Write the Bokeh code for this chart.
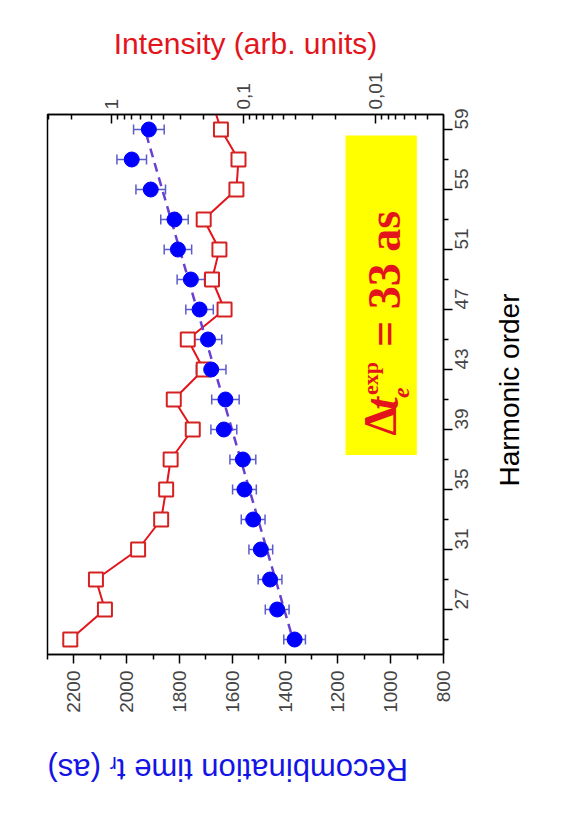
import math
from bokeh.plotting import figure
from bokeh.models import (Range1d, LogScale, LogAxis, FixedTicker, Whisker, TeeHead,
                          ColumnDataSource, BoxAnnotation, CustomJSTickFormatter, Label)
from bokeh.embed import file_html
from bokeh.resources import INLINE

# ---- data ----
harmonics = [25, 27, 29, 31, 33, 35, 37, 39, 41, 43, 45, 47, 49, 51, 53, 55, 57, 59]
recomb_time = [1364, 1430, 1457, 1492, 1521, 1554, 1560, 1632, 1626, 1680, 1692, 1724,
               1757, 1806, 1819, 1909, 1981, 1916]
time_err = [41, 45, 45, 45, 45, 45, 49, 49, 52, 56, 52, 52, 52, 52, 52, 56, 56, 58]

int_harmonics = [25, 27, 29, 31, 33, 35, 37, 39, 41, 43, 45, 47, 49, 51, 53, 55, 57, 59, 61]
intensity = [2.05, 1.12, 1.31, 0.628, 0.42, 0.385, 0.356, 0.242, 0.337, 0.20, 0.264,
             0.139, 0.173, 0.152, 0.20, 0.113, 0.109, 0.148, 0.175]

fit_harmonics = [24.5, 58.5]
fit_time = [1362, 1923]

time_ticks = [800, 1000, 1200, 1400, 1600, 1800, 2000, 2200]
time_minor = [900, 1100, 1300, 1500, 1700, 1900, 2100, 2300]
harm_ticks = [27, 31, 35, 39, 43, 47, 51, 55, 59]
harm_minor = [25, 29, 33, 37, 41, 45, 49, 53, 57]
int_ticks = [1, 0.1, 0.01]
int_minor = [3, 2, 0.9, 0.8, 0.7, 0.6, 0.5, 0.4, 0.3, 0.2,
             0.09, 0.08, 0.07, 0.06, 0.05, 0.04, 0.03, 0.02,
             0.009, 0.008, 0.007, 0.006, 0.005, 0.004]

RED = "#e3141b"
BLUE = "#0000ff"

p = figure(width=553, height=811, x_range=Range1d(2300, 800), y_range=Range1d(24, 60),
           output_backend="svg", toolbar_location=None,
           x_axis_location="below", y_axis_location="right",
           min_border_left=47, min_border_right=110, min_border_top=114, min_border_bottom=157)
p.grid.visible = False
p.outline_line_color = "black"
p.outline_line_width = 1.5
p.background_fill_color = "white"
p.border_fill_color = "white"

p.extra_x_ranges = {"int": Range1d(3.05, 0.00305)}
p.extra_x_scales = {"int": LogScale()}

# bottom axis (recombination time)
xa = p.xaxis[0]
xa.ticker = FixedTicker(ticks=time_ticks, minor_ticks=time_minor)
xa.major_label_orientation = math.pi / 2
xa.major_tick_out = 9
xa.major_tick_in = 0
xa.minor_tick_out = 5
xa.minor_tick_in = 0
xa.axis_line_width = 1.5
xa.major_tick_line_width = 1.5
xa.minor_tick_line_width = 1.5
xa.major_label_text_font = "Liberation Sans"
xa.major_label_text_font_size = "19px"
xa.major_label_standoff = 7
xa.axis_label = "Recombination time tᵣ (as)"
xa.axis_label_text_color = "#1414e6"
xa.axis_label_text_font = "Liberation Sans"
xa.axis_label_text_font_style = "normal"
xa.axis_label_text_font_size = "31px"
xa.axis_label_standoff = 54
xa.axis_label_orientation = math.pi
xa.axis_label_align = "end"

# right axis (harmonic order)
ya = p.yaxis[0]
ya.ticker = FixedTicker(ticks=harm_ticks, minor_ticks=harm_minor)
ya.major_label_orientation = math.pi / 2
ya.major_tick_out = 9
ya.major_tick_in = 0
ya.minor_tick_out = 5
ya.minor_tick_in = 0
ya.axis_line_width = 1.5
ya.major_tick_line_width = 1.5
ya.minor_tick_line_width = 1.5
ya.major_label_text_font = "Liberation Sans"
ya.major_label_text_font_size = "19px"
ya.major_label_standoff = 9
ya.axis_label = "\u2003" * 6 + "Harmonic order"
ya.axis_label_text_color = "black"
ya.axis_label_text_font = "Liberation Sans"
ya.axis_label_text_font_style = "normal"
ya.axis_label_text_font_size = "28px"
ya.axis_label_standoff = 32
ya.axis_label_orientation = math.pi / 2
ya.axis_label_align = "start"

# top axis (intensity, log)
ta = LogAxis(x_range_name="int",
             ticker=FixedTicker(ticks=int_ticks, minor_ticks=int_minor),
             formatter=CustomJSTickFormatter(code="return tick.toString().replace('.', ',');"))
ta.major_label_orientation = math.pi / 2
ta.major_tick_in = 9
ta.major_tick_out = 0
ta.minor_tick_in = 5
ta.minor_tick_out = 0
ta.axis_line_width = 1.5
ta.major_tick_line_width = 1.5
ta.minor_tick_line_width = 1.5
ta.major_label_text_font = "Liberation Sans"
ta.major_label_text_font_size = "19px"
ta.major_label_standoff = 5
ta.axis_label = "Intensity (arb. units)"
ta.axis_label_text_color = RED
ta.axis_label_text_font = "Liberation Sans"
ta.axis_label_text_font_style = "normal"
ta.axis_label_text_font_size = "30px"
ta.axis_label_standoff = 10
p.add_layout(ta, "above")

# yellow box
p.add_layout(BoxAnnotation(left=1171, right=901, bottom=37.3, top=58.6,
                           fill_color="#ffff00", fill_alpha=1.0, line_alpha=0, level="underlay"))

# intensity series
p.line(x=intensity, y=int_harmonics, x_range_name="int", line_color=RED, line_width=2)
p.scatter(x=intensity, y=int_harmonics, x_range_name="int", marker="square", size=14,
          fill_color="white", line_color="#d42222", line_width=2)

# fit line
p.line(x=fit_time, y=fit_harmonics, line_color="#6a40d0", line_width=2.5, line_dash="9 6")

# recombination time with error bars
src = ColumnDataSource(dict(h=harmonics, t=recomb_time,
                            lo=[t - e for t, e in zip(recomb_time, time_err)],
                            hi=[t + e for t, e in zip(recomb_time, time_err)]))
p.add_layout(Whisker(source=src, base="h", lower="lo", upper="hi", dimension="width",
                     line_color="#5b5bcc", line_width=1.5,
                     lower_head=TeeHead(size=10, line_color="#5b5bcc", line_width=1.5),
                     upper_head=TeeHead(size=10, line_color="#5b5bcc", line_width=1.5)))
p.scatter(x="t", y="h", source=src, marker="circle", size=15, fill_color=BLUE, line_color=BLUE)

# annotation text in the yellow box
common = dict(angle=math.pi / 2, text_color=RED, text_align="left", text_baseline="middle")
p.add_layout(Label(x=1040, y=38.6, text="Δ", text_font="Liberation Serif",
                   text_font_size="46px", text_font_style="bold", **common))
p.add_layout(Label(x=1030, y=40.3, text="t", text_font="Liberation Serif",
                   text_font_size="46px", text_font_style="bold italic", **common))
p.add_layout(Label(x=1075, y=41.3, text="exp", text_font="Liberation Serif",
                   text_font_size="22px", text_font_style="bold", **common))
p.add_layout(Label(x=960, y=41.1, text="e", text_font="Liberation Serif",
                   text_font_size="24px", text_font_style="bold italic", **common))
p.add_layout(Label(x=1025, y=44.5, text="= 33  as", text_font="Liberation Serif",
                   text_font_size="46px", text_font_style="bold", **common))

open("out.html", "w").write(file_html(p, INLINE))
